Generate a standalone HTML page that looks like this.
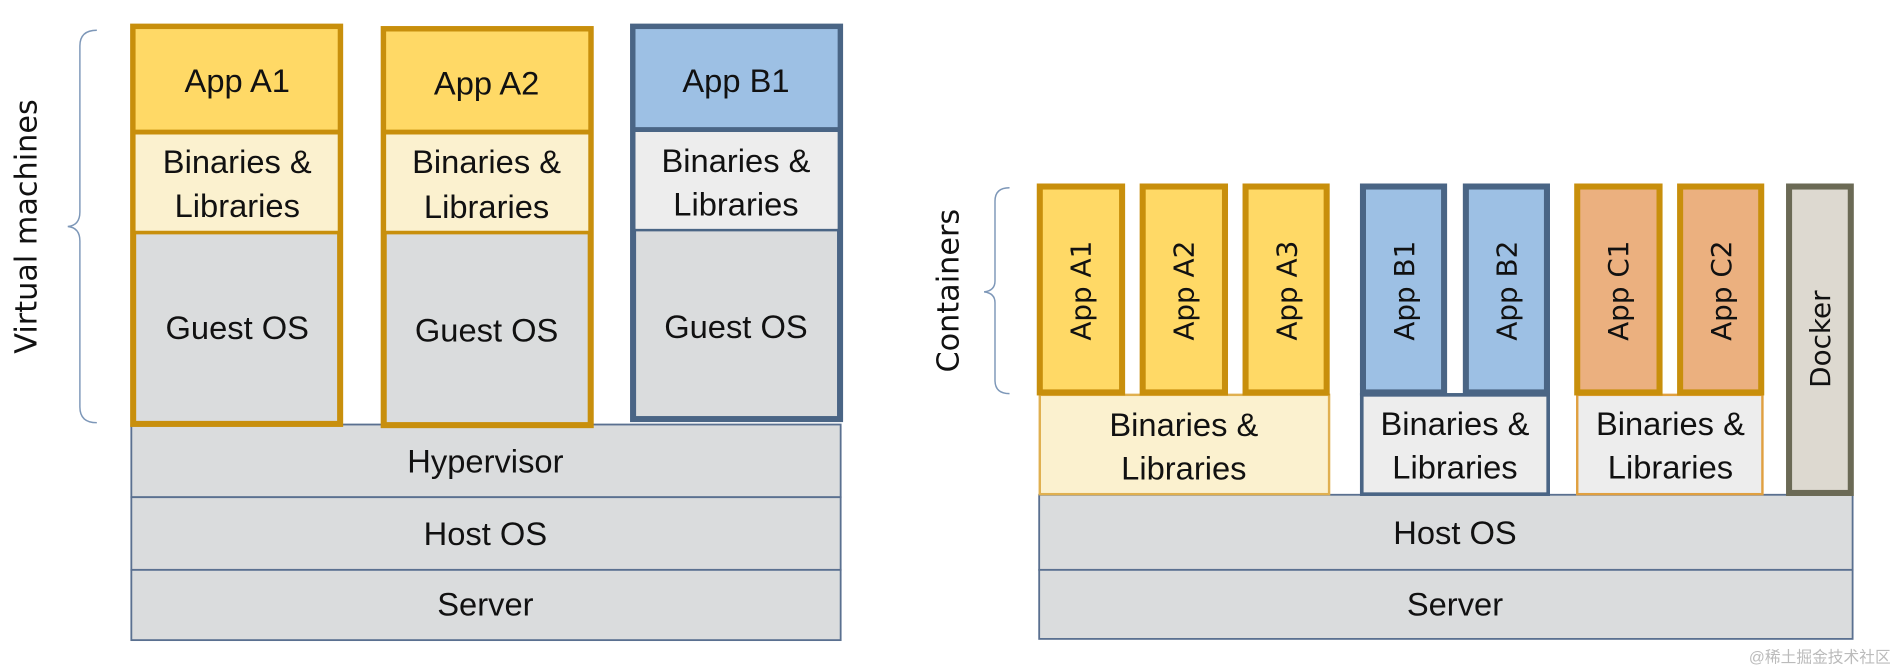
<!DOCTYPE html>
<html><head><meta charset="utf-8"><style>
html,body{margin:0;padding:0;background:#fff;}
svg{display:block;}
.t{font-family:"Liberation Sans Narrow","Liberation Sans",sans-serif;font-size:27px;fill:#111;text-anchor:middle;}
.v{font-family:"DejaVu Sans","Liberation Sans",sans-serif;font-size:23px;fill:#111;text-anchor:middle;}
</style></head><body>
<svg width="1898" height="671" viewBox="0 0 1568 554" preserveAspectRatio="none" xmlns="http://www.w3.org/2000/svg">
<!-- left brace -->
<path d="M80 25 Q66 25 66 38 L66 175 Q66 186 56 187 Q66 188 66 199 L66 336 Q66 349 80 349" fill="none" stroke="#7d97b8" stroke-width="1.2"/>
<text class="v" transform="translate(30,187) rotate(-90)" style="font-size:25px">Virtual machines</text>

<!-- bottom stacks left -->
<rect x="108.5" y="350.5" width="586" height="60" fill="#dadcdd" stroke="#5a7090" stroke-width="1.5"/>
<rect x="108.5" y="410.5" width="586" height="60" fill="#dadcdd" stroke="#5a7090" stroke-width="1.5"/>
<rect x="108.5" y="470.5" width="586" height="58" fill="#dadcdd" stroke="#5a7090" stroke-width="1.5"/>
<text class="t" x="401" y="390">Hypervisor</text>
<text class="t" x="401" y="450">Host OS</text>
<text class="t" x="401" y="508">Server</text>

<!-- VM A1 -->
<rect x="110" y="22" width="171" height="328" fill="#dadcdd" stroke="#c88f0c" stroke-width="5"/>
<rect x="112" y="24" width="167" height="84" fill="#ffd966"/>
<rect x="112" y="111" width="167" height="80" fill="#fbf1cf"/>
<line x1="110" y1="109" x2="281" y2="109" stroke="#c88f0c" stroke-width="4"/>
<line x1="110" y1="192" x2="281" y2="192" stroke="#c88f0c" stroke-width="3"/>
<text class="t" x="196" y="76">App A1</text>
<text class="t" x="196" y="143">Binaries &amp;</text>
<text class="t" x="196" y="179">Libraries</text>
<text class="t" x="196" y="280">Guest OS</text>

<!-- VM A2 -->
<rect x="317" y="24" width="171" height="327" fill="#dadcdd" stroke="#c88f0c" stroke-width="5"/>
<rect x="319" y="26" width="167" height="82" fill="#ffd966"/>
<rect x="319" y="111" width="167" height="80" fill="#fbf1cf"/>
<line x1="317" y1="109" x2="488" y2="109" stroke="#c88f0c" stroke-width="4"/>
<line x1="317" y1="192" x2="488" y2="192" stroke="#c88f0c" stroke-width="3"/>
<text class="t" x="402" y="78">App A2</text>
<text class="t" x="402" y="143">Binaries &amp;</text>
<text class="t" x="402" y="180">Libraries</text>
<text class="t" x="402" y="282">Guest OS</text>

<!-- VM B1 -->
<rect x="523" y="22" width="171" height="324" fill="#dadcdd" stroke="#4a6585" stroke-width="5"/>
<rect x="525" y="24" width="167" height="82" fill="#9dc0e4"/>
<rect x="525" y="109" width="167" height="80" fill="#ededed"/>
<line x1="523" y1="107" x2="694" y2="107" stroke="#4a6585" stroke-width="4"/>
<line x1="523" y1="190" x2="694" y2="190" stroke="#4a6585" stroke-width="2"/>
<text class="t" x="608" y="76">App B1</text>
<text class="t" x="608" y="142">Binaries &amp;</text>
<text class="t" x="608" y="178">Libraries</text>
<text class="t" x="608" y="279">Guest OS</text>

<!-- right brace -->
<path d="M834 155 Q822 155 822 166 L822 232 Q822 240 813 241 Q822 242 822 250 L822 314 Q822 325 834 325" fill="none" stroke="#7d97b8" stroke-width="1.2"/>
<text class="v" transform="translate(792,240) rotate(-90)" style="font-size:25px">Containers</text>

<!-- bottom right -->
<rect x="858.5" y="408.5" width="672" height="62" fill="#dadcdd" stroke="#5a7090" stroke-width="1.5"/>
<rect x="858.5" y="470.5" width="672" height="57" fill="#dadcdd" stroke="#5a7090" stroke-width="1.5"/>
<text class="t" x="1202" y="449">Host OS</text>
<text class="t" x="1202" y="508">Server</text>

<!-- binaries right -->
<rect x="859" y="326" width="239" height="82" fill="#fbf1cf" stroke="#e0b050" stroke-width="2"/>
<text class="t" x="978" y="360">Binaries &amp;</text>
<text class="t" x="978" y="396">Libraries</text>
<rect x="1125" y="326" width="154" height="82" fill="#ededed" stroke="#4a6585" stroke-width="3"/>
<text class="t" x="1202" y="359">Binaries &amp;</text>
<text class="t" x="1202" y="395">Libraries</text>
<rect x="1303" y="326" width="153" height="82" fill="#ededed" stroke="#e0a040" stroke-width="2"/>
<text class="t" x="1380" y="359">Binaries &amp;</text>
<text class="t" x="1380" y="395">Libraries</text>

<!-- containers -->
<g stroke-width="5">
<rect x="859" y="154" width="68" height="170" fill="#ffd966" stroke="#c88f0c"/>
<rect x="944" y="154" width="68" height="170" fill="#ffd966" stroke="#c88f0c"/>
<rect x="1029" y="154" width="67" height="170" fill="#ffd966" stroke="#c88f0c"/>
<rect x="1126" y="154" width="67" height="170" fill="#9dc0e4" stroke="#4a6585"/>
<rect x="1211" y="154" width="67" height="170" fill="#9dc0e4" stroke="#4a6585"/>
<rect x="1303" y="154" width="68" height="170" fill="#ebb07f" stroke="#c88f0c"/>
<rect x="1388" y="154" width="67" height="170" fill="#ebb07f" stroke="#c88f0c"/>
<rect x="1478" y="154" width="51" height="253" fill="#ddd9d0" stroke="#6b6a55" stroke-width="5"/>
</g>
<text class="v" transform="translate(901,240) rotate(-90)">App A1</text>
<text class="v" transform="translate(986,240) rotate(-90)">App A2</text>
<text class="v" transform="translate(1071,240) rotate(-90)">App A3</text>
<text class="v" transform="translate(1168,240) rotate(-90)">App B1</text>
<text class="v" transform="translate(1253,240) rotate(-90)">App B2</text>
<text class="v" transform="translate(1345,240) rotate(-90)">App C1</text>
<text class="v" transform="translate(1430,240) rotate(-90)">App C2</text>
<text class="v" transform="translate(1512,280) rotate(-90)">Docker</text>

<text x="1562" y="547" style="font-family:'Liberation Sans','Noto Sans CJK SC',sans-serif;font-size:13px;fill:#bbb;text-anchor:end">@稀土掘金技术社区</text>
</svg>
</body></html>
